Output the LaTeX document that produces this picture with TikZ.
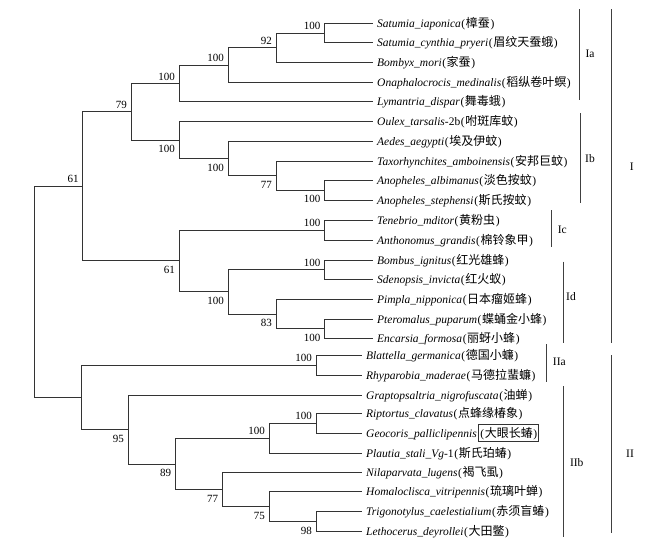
\documentclass[tikz,border=0pt]{standalone}
\usepackage{fontspec}
\setmainfont{Liberation Serif}
\newfontfamily\cjk{Noto Sans CJK SC}
\newcommand\zh[1]{\hspace{0.6pt}(\hspace{0.6pt}{\cjk\fontsize{12}{13}\selectfont #1}\hspace{0.6pt})}
\newcommand\mkleaf[4]{\coordinate (t#1) at (#2,#3); \node[leaflab] (l#1) at ([shift={(4.5,4)}]t#1) {#4};}
\newcommand\bup[2]{\node[boot] (b#1) at ([shift={(-4,-3.5)}]#1) {#2};}
\newcommand\bdn[2]{\node[boot] (b#1) at ([shift={(-4,12.5)}]#1) {#2};}
\tikzset{
  edge/.style={draw=black!80, line width=0.85pt},
  bar/.style={draw=black!75, line width=0.9pt},
  leaflab/.style={anchor=base west, inner sep=0pt, font=\fontsize{11.5}{13}\selectfont},
  boot/.style={anchor=base east, inner sep=0pt, font=\fontsize{11}{13}\selectfont},
  grp/.style={inner sep=0pt, font=\fontsize{11.5}{13}\selectfont},
}
\begin{document}
\begin{tikzpicture}[x=1pt,y=-1pt]
\useasboundingbox (0,0) rectangle (645,546);
% leaves
\mkleaf{1}{372.5}{23.3}{\textit{Satumia\_iaponica}\zh{樟蚕}}
\mkleaf{2}{372.5}{42.7}{\textit{Satumia\_cynthia\_pryeri}\zh{眉纹天蚕蛾}}
\mkleaf{3}{372.5}{62.7}{\textit{Bombyx\_mori}\zh{家蚕}}
\mkleaf{4}{372.5}{82.7}{\textit{Onaphalocrocis\_medinalis}\zh{稻纵卷叶螟}}
\mkleaf{5}{372.5}{101.7}{\textit{Lymantria\_dispar}\zh{舞毒蛾}}
\mkleaf{6}{372.5}{121.7}{\textit{Oulex\_tarsalis}-2b\zh{咐斑库蚊}}
\mkleaf{7}{372.5}{141.7}{\textit{Aedes\_aegypti}\zh{埃及伊蚊}}
\mkleaf{8}{372.5}{161.3}{\textit{Taxorhynchites\_amboinensis}\zh{安邦巨蚊}}
\mkleaf{9}{372.5}{180.7}{\textit{Anopheles\_albimanus}\zh{淡色按蚊}}
\mkleaf{10}{372.5}{200}{\textit{Anopheles\_stephensi}\zh{斯氏按蚊}}
\mkleaf{11}{372.5}{220}{\textit{Tenebrio\_mditor}\zh{黄粉虫}}
\mkleaf{12}{372.5}{240}{\textit{Anthonomus\_grandis}\zh{棉铃象甲}}
\mkleaf{13}{372.5}{260}{\textit{Bombus\_ignitus}\zh{红光雄蜂}}
\mkleaf{14}{372.5}{279.3}{\textit{Sdenopsis\_invicta}\zh{红火蚁}}
\mkleaf{15}{372.5}{299.3}{\textit{Pimpla\_nipponica}\zh{日本瘤姬蜂}}
\mkleaf{16}{372.5}{319.3}{\textit{Pteromalus\_puparum}\zh{蝶蛹金小蜂}}
\mkleaf{17}{372.5}{338.3}{\textit{Encarsia\_formosa}\zh{丽蚜小蜂}}
\mkleaf{18}{361.5}{355}{\textit{Blattella\_germanica}\zh{德国小蠊}}
\mkleaf{19}{361.5}{375}{\textit{Rhyparobia\_maderae}\zh{马德拉蜚蠊}}
\mkleaf{20}{361.5}{395}{\textit{Graptopsaltria\_nigrofuscata}\zh{油蝉}}
\mkleaf{21}{361.5}{413.3}{\textit{Riptortus\_clavatus}\zh{点蜂缘椿象}}
\mkleaf{22}{361.5}{433.3}{\textit{Geocoris\_palliclipennis}}
\node[draw=black!80, line width=0.8pt, anchor=base west, font=\fontsize{11.5}{13}\selectfont,
      inner xsep=1pt, inner ysep=1.5pt, text height=11.8pt, text depth=2.9pt]
      (l22c) at ([xshift=1.5pt]l22.base east) {\zh{大眼长蝽}};
\mkleaf{23}{361.5}{453.3}{\textit{Plautia\_stali\_Vg}-1\zh{斯氏珀蝽}}
\mkleaf{24}{361.5}{472.7}{\textit{Nilaparvata\_lugens}\zh{褐飞虱}}
\mkleaf{25}{361.5}{491.7}{\textit{Homaloclisca\_vitripennis}\zh{琉璃叶蝉}}
\mkleaf{26}{361.5}{511.7}{\textit{Trigonotylus\_caelestialium}\zh{赤须盲蝽}}
\mkleaf{27}{361.5}{531.7}{\textit{Lethocerus\_deyrollei}\zh{大田鳖}}
% internal nodes
\coordinate (n1) at (324.5,33);
\coordinate (n2) at (276,47.85);
\coordinate (n3) at (228,65.3);
\coordinate (n4) at (179,83.5);
\coordinate (n6) at (324.5,190.35);
\coordinate (n5) at (276,175.8);
\coordinate (n7) at (228,158.75);
\coordinate (n8) at (179,140.2);
\coordinate (n9) at (131,111.85);
\coordinate (n10) at (324.5,230);
\coordinate (n11) at (324.5,269.65);
\coordinate (n12) at (324.5,328.8);
\coordinate (n13) at (276,314.05);
\coordinate (n14) at (228,291.85);
\coordinate (n15) at (179,260.9);
\coordinate (n16) at (82.7,186.4);
\coordinate (n17) at (316,365);
\coordinate (n18) at (316,423.3);
\coordinate (n19) at (269,438.3);
\coordinate (n20) at (316,521.7);
\coordinate (n21) at (269,506.7);
\coordinate (n22) at (222.3,489.7);
\coordinate (n23) at (175.3,464);
\coordinate (n24) at (128,429.5);
\coordinate (n25) at (81.7,397.25);
\coordinate (root) at (34,291.8);
% edges
\draw[edge] (n1) |- (t1); \draw[edge] (n1) |- (t2);
\draw[edge] (n2) |- (n1); \draw[edge] (n2) |- (t3);
\draw[edge] (n3) |- (n2); \draw[edge] (n3) |- (t4);
\draw[edge] (n4) |- (n3); \draw[edge] (n4) |- (t5);
\draw[edge] (n6) |- (t9); \draw[edge] (n6) |- (t10);
\draw[edge] (n5) |- (t8); \draw[edge] (n5) |- (n6);
\draw[edge] (n7) |- (t7); \draw[edge] (n7) |- (n5);
\draw[edge] (n8) |- (t6); \draw[edge] (n8) |- (n7);
\draw[edge] (n9) |- (n4); \draw[edge] (n9) |- (n8);
\draw[edge] (n10) |- (t11); \draw[edge] (n10) |- (t12);
\draw[edge] (n11) |- (t13); \draw[edge] (n11) |- (t14);
\draw[edge] (n12) |- (t16); \draw[edge] (n12) |- (t17);
\draw[edge] (n13) |- (t15); \draw[edge] (n13) |- (n12);
\draw[edge] (n14) |- (n11); \draw[edge] (n14) |- (n13);
\draw[edge] (n15) |- (n10); \draw[edge] (n15) |- (n14);
\draw[edge] (n16) |- (n9); \draw[edge] (n16) |- (n15);
\draw[edge] (n17) |- (t18); \draw[edge] (n17) |- (t19);
\draw[edge] (n18) |- (t21); \draw[edge] (n18) |- (t22);
\draw[edge] (n19) |- (n18); \draw[edge] (n19) |- (t23);
\draw[edge] (n20) |- (t26); \draw[edge] (n20) |- (t27);
\draw[edge] (n21) |- (t25); \draw[edge] (n21) |- (n20);
\draw[edge] (n22) |- (t24); \draw[edge] (n22) |- (n21);
\draw[edge] (n23) |- (n19); \draw[edge] (n23) |- (n22);
\draw[edge] (n24) |- (t20); \draw[edge] (n24) |- (n23);
\draw[edge] (n25) |- (n17); \draw[edge] (n25) |- (n24);
\draw[edge] (root) |- (n16); \draw[edge] (root) |- (n25);
% bootstrap
\bup{n1}{100} \bup{n2}{92} \bup{n3}{100} \bup{n4}{100} \bup{n9}{79}
\bdn{n8}{100} \bdn{n7}{100} \bdn{n5}{77} \bdn{n6}{100}
\bup{n16}{61} \bdn{n15}{61} \bup{n10}{100} \bdn{n14}{100}
\bup{n11}{100} \bdn{n13}{83} \bdn{n12}{100}
\bup{n17}{100} \bdn{n24}{95} \bdn{n23}{89} \bup{n19}{100} \bup{n18}{100}
\bdn{n22}{77} \bdn{n21}{75} \bdn{n20}{98}
% group bars
\coordinate (Ia1) at (579,9.3); \coordinate (Ia2) at (579,100);
\draw[bar] (Ia1) -- (Ia2); \node[grp] (gIa) at (590,53.3) {Ia};
\coordinate (Ib1) at (580,113.3); \coordinate (Ib2) at (580,203.3);
\draw[bar] (Ib1) -- (Ib2); \node[grp] (gIb) at (590,158.3) {Ib};
\coordinate (Ic1) at (551.7,210); \coordinate (Ic2) at (551.7,246.7);
\draw[bar] (Ic1) -- (Ic2); \node[grp] (gIc) at (562.3,230) {Ic};
\coordinate (Id1) at (563.3,261.7); \coordinate (Id2) at (563.3,343.3);
\draw[bar] (Id1) -- (Id2); \node[grp] (gId) at (571,296.7) {Id};
\coordinate (I1) at (611,9.3); \coordinate (I2) at (611,343.3);
\draw[bar] (I1) -- (I2); \node[grp] (gI) at (631.7,166.7) {I};
\coordinate (IIa1) at (546.7,344); \coordinate (IIa2) at (546.7,381.7);
\draw[bar] (IIa1) -- (IIa2); \node[grp] (gIIa) at (559.3,361.7) {IIa};
\coordinate (IIb1) at (563.3,386); \coordinate (IIb2) at (563.3,536.7);
\draw[bar] (IIb1) -- (IIb2); \node[grp] (gIIb) at (576.7,462.7) {IIb};
\coordinate (II1) at (611,355); \coordinate (II2) at (611,533.3);
\draw[bar] (II1) -- (II2); \node[grp] (gII) at (630,453.3) {II};
\end{tikzpicture}
\end{document}
